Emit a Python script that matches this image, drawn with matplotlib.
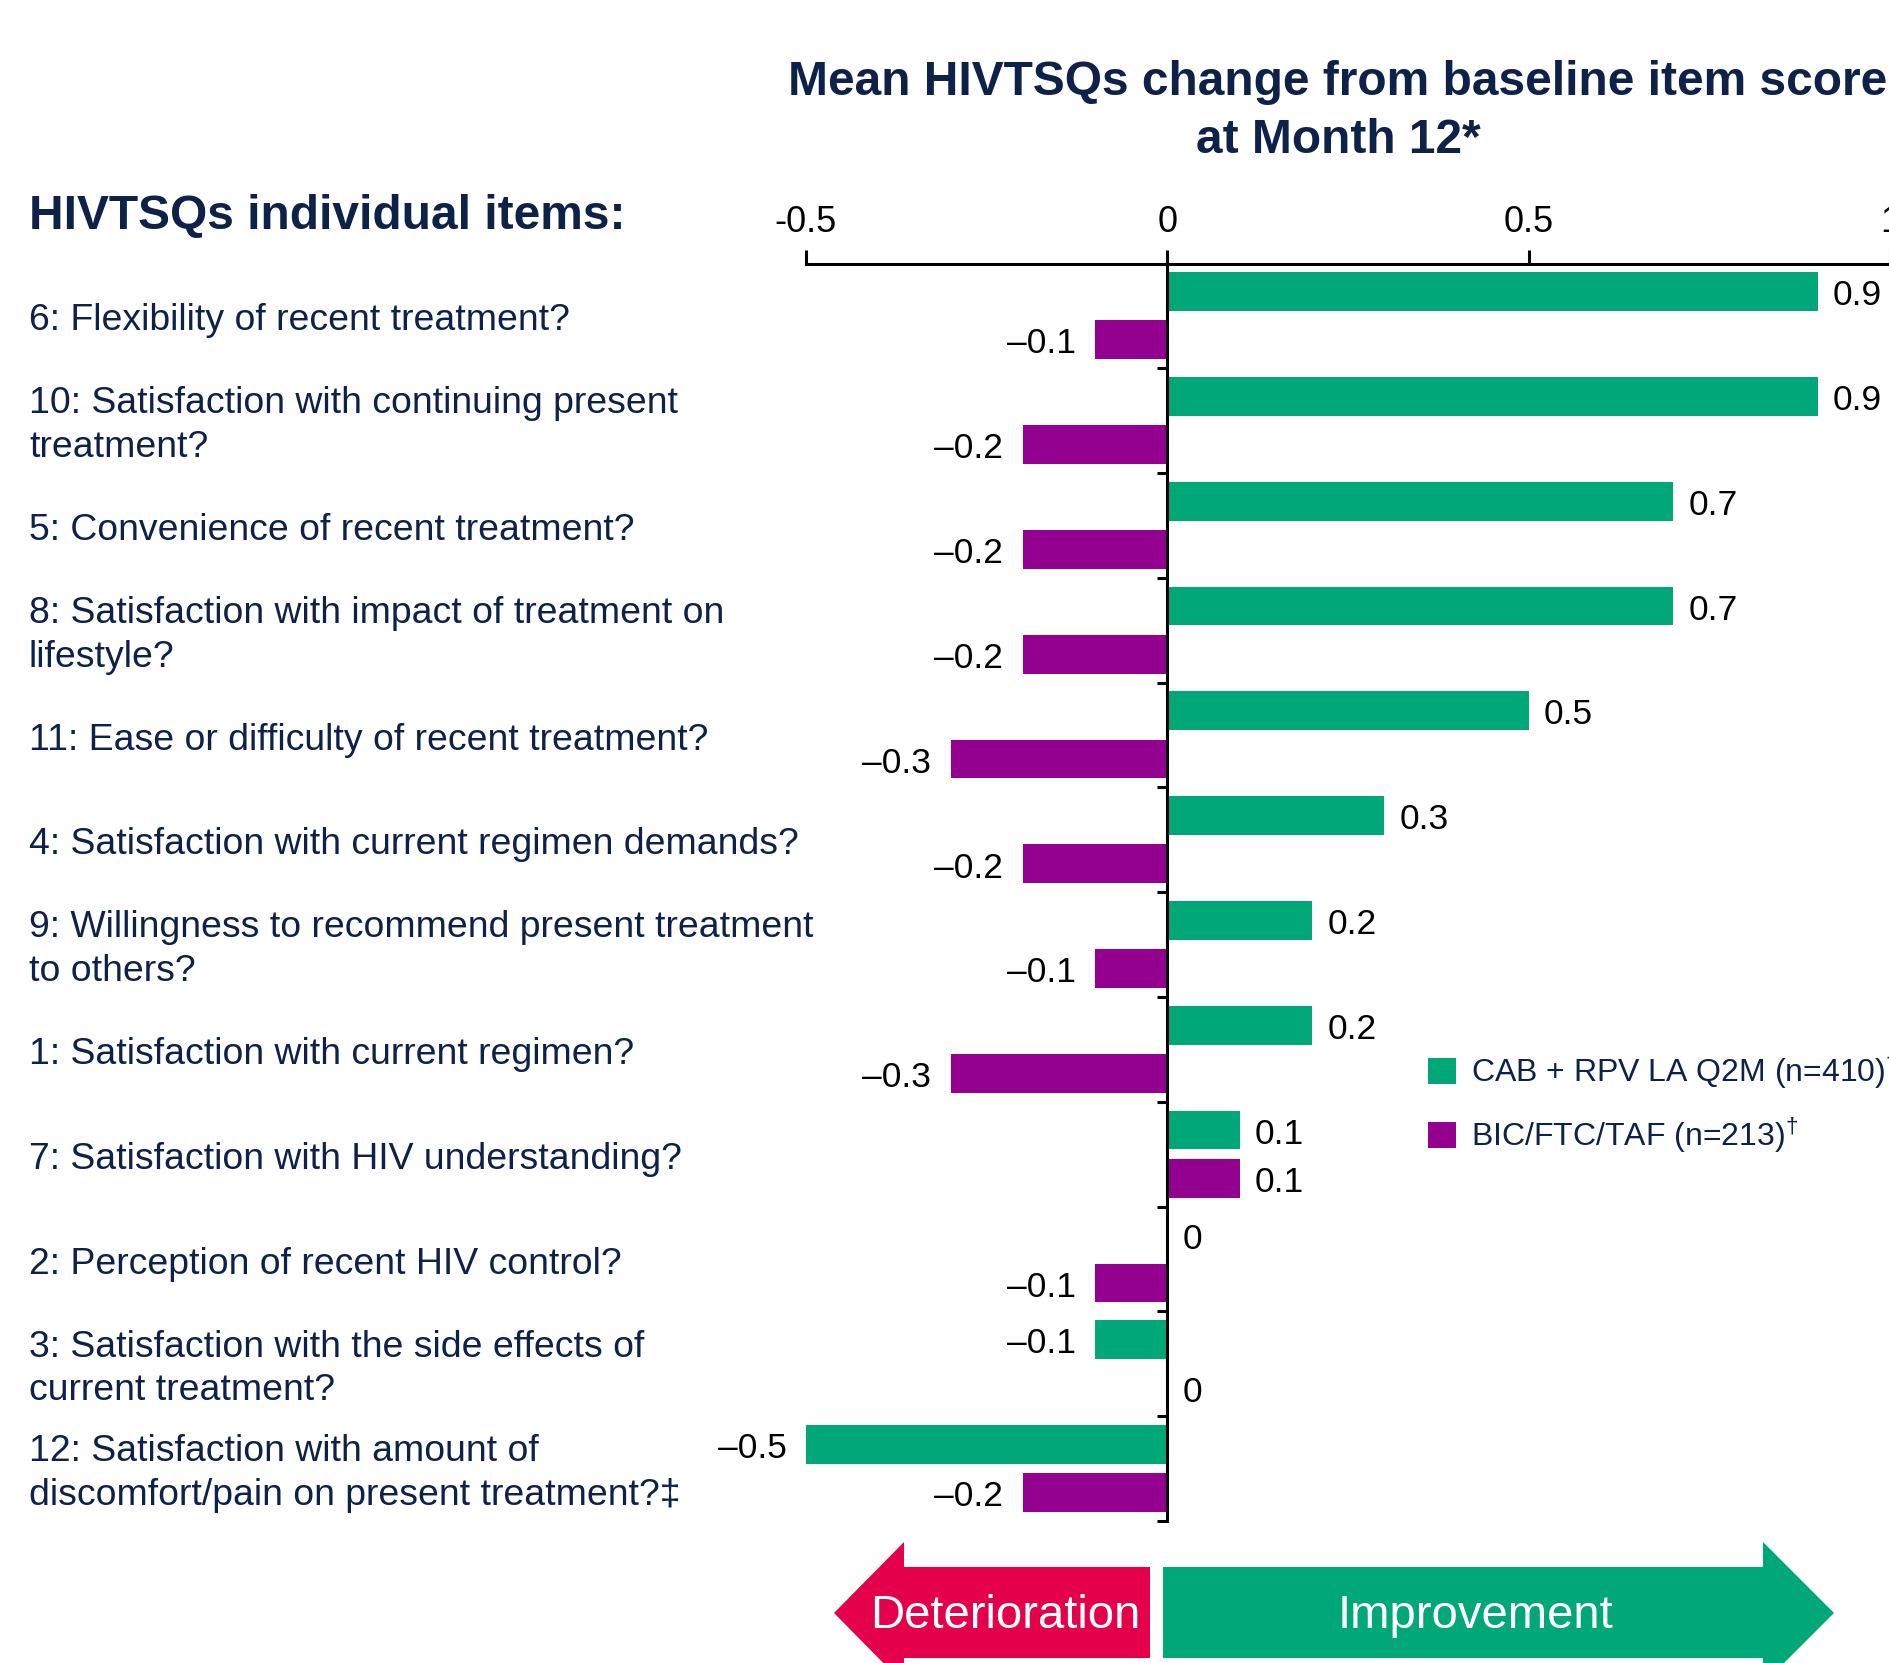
import matplotlib
matplotlib.use("Agg")
import matplotlib.pyplot as plt
import matplotlib.transforms as mtransforms
from matplotlib.patches import Polygon, Patch
import numpy as np

plt.rcParams['font.family'] = ['Liberation Sans', 'DejaVu Sans']
plt.rcParams['mathtext.fontset'] = 'custom'
plt.rcParams['mathtext.rm'] = 'Liberation Sans'

# ---------------- data ----------------
items = [
    "6: Flexibility of recent treatment?",
    "10: Satisfaction with continuing present\ntreatment?",
    "5: Convenience of recent treatment?",
    "8: Satisfaction with impact of treatment on\nlifestyle?",
    "11: Ease or difficulty of recent treatment?",
    "4: Satisfaction with current regimen demands?",
    "9: Willingness to recommend present treatment\nto others?",
    "1: Satisfaction with current regimen?",
    "7: Satisfaction with HIV understanding?",
    "2: Perception of recent HIV control?",
    "3: Satisfaction with the side effects of\ncurrent treatment?",
    "12: Satisfaction with amount of\ndiscomfort/pain on present treatment?\u2021",
]
cab_rpv = [0.9, 0.9, 0.7, 0.7, 0.5, 0.3, 0.2, 0.2, 0.1, 0.0, -0.1, -0.5]
bic_ftc_taf = [-0.1, -0.2, -0.2, -0.2, -0.3, -0.2, -0.1, -0.3, 0.1, -0.1, 0.0, -0.2]
series_names = ["CAB + RPV LA Q2M (n=410)$^{\u2020}$", "BIC/FTC/TAF (n=213)$^{\u2020}$"]
xticks = [-0.5, 0, 0.5, 1]
xticklabels = ["-0.5", "0", "0.5", "1"]

GREEN = "#00A878"
PURPLE = "#94008F"
RED = "#E4004B"
NAVY = "#0D2149"

W, H = 1890, 1663
fig = plt.figure(figsize=(W / 100, H / 100), dpi=100)

def fx(px):
    return px / W

def fy(py):
    return 1 - py / H

ax_left, ax_right, ax_top, ax_bot = 806, 1890, 264, 1521
ax = fig.add_axes([fx(ax_left), fy(ax_bot), fx(ax_right - ax_left), (ax_bot - ax_top) / H])

n = len(items)
y = np.arange(n)
off = 0.23
bh = 0.37
ax.barh(y - off, cab_rpv, height=bh, color=GREEN, label=series_names[0])
ax.barh(y + off, bic_ftc_taf, height=bh, color=PURPLE, label=series_names[1])

ax.set_xlim(-0.5, 1.0)
ax.set_ylim(n - 0.5, -0.493)

# value labels
def fmt(v):
    if v < 0:
        return "\u2013" + f"{abs(v):.1f}"
    if v == 0:
        return "0"
    return f"{v:.1f}"

for vals, dy in ((cab_rpv, -off), (bic_ftc_taf, off)):
    for i, v in enumerate(vals):
        if v < 0:
            ax.annotate(fmt(v), (v, i + dy), xytext=(-14, -3), textcoords='offset points',
                        ha='right', va='center', fontsize=25.5, color='black')
        else:
            ax.annotate(fmt(v), (v, i + dy), xytext=(11, -3), textcoords='offset points',
                        ha='left', va='center', fontsize=25.5, color='black')

# axes styling
for s in ('bottom', 'right'):
    ax.spines[s].set_visible(False)
ax.spines['left'].set_position(('data', 0))
ax.spines['left'].set_linewidth(2.2)
ax.spines['top'].set_linewidth(2.2)
ax.xaxis.tick_top()
ax.set_xticks(xticks)
ax.set_xticklabels(xticklabels)
ax.tick_params(axis='x', direction='out', length=10, width=2.2, labelsize=26, pad=7, colors='black')
ax.set_yticks(np.arange(0.5, n, 1))
ax.set_yticklabels([])
ax.tick_params(axis='y', direction='out', length=7, width=2.2)

# category labels
trans = mtransforms.blended_transform_factory(fig.transFigure, ax.transData)
for i, lab in enumerate(items):
    ax.text(fx(29), i + 0.05, lab, transform=trans, ha='left', va='center',
            fontsize=26.9, color=NAVY, linespacing=1.33, clip_on=False)

# titles
fig.text(fx(1338), fy(95), "Mean HIVTSQs change from baseline item score",
         ha='center', va='baseline', fontsize=34.5, fontweight='bold', color=NAVY)
fig.text(fx(1338), fy(153), "at Month 12*",
         ha='center', va='baseline', fontsize=34.5, fontweight='bold', color=NAVY)
fig.text(fx(29), fy(229), "HIVTSQs individual items:",
         ha='left', va='baseline', fontsize=34.5, fontweight='bold', color=NAVY)

# legend
handles = [Patch(facecolor=GREEN, edgecolor='none'), Patch(facecolor=PURPLE, edgecolor='none')]
leg = fig.legend(handles, series_names, loc='upper left',
                 bbox_to_anchor=(fx(1428), fy(1051)), bbox_transform=fig.transFigure,
                 frameon=False, fontsize=23, handlelength=0.87, handleheight=0.87,
                 handletextpad=0.47, labelspacing=0.76, borderpad=0, borderaxespad=0)
for t in leg.get_texts():
    t.set_color(NAVY)

# direction arrows
def poly(pts, color):
    p = Polygon([(fx(a), fy(b)) for a, b in pts], closed=True, transform=fig.transFigure,
                facecolor=color, edgecolor='none')
    fig.add_artist(p)

poly([(834, 1613), (904, 1542), (904, 1567), (1150, 1567), (1150, 1658),
      (904, 1658), (904, 1684)], RED)
poly([(1163, 1567), (1763, 1567), (1763, 1542), (1834, 1613), (1763, 1684),
      (1763, 1658), (1163, 1658)], GREEN)
fig.text(fx(1005), fy(1611), "Deterioration", ha='center', va='center_baseline',
         fontsize=34, color='white')
fig.text(fx(1475), fy(1611), "Improvement", ha='center', va='center_baseline',
         fontsize=34, color='white')

fig.savefig("out.png", dpi=100)
